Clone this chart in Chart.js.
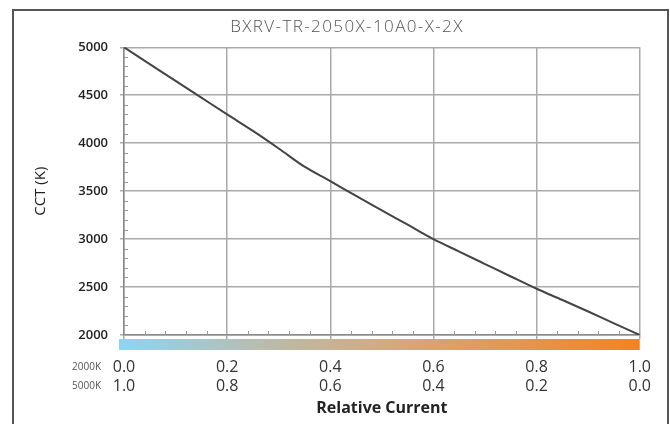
<!DOCTYPE html>
<html>
<head>
<meta charset="utf-8">
<script src="https://cdn.jsdelivr.net/npm/chart.js@4.4.1/dist/chart.umd.min.js"></script>
<style>
  html, body { margin: 0; padding: 0; background: #fff; }
  #wrap { position: relative; width: 670px; height: 424px; }
  #frame {
    position: absolute; left: 12px; top: 9px; width: 653px; height: 420px;
    border: 2px solid #555; border-bottom: none; pointer-events: none;
  }
</style>
</head>
<body>
<div id="wrap">
  <canvas id="cctChart" width="670" height="424"></canvas>
  <div id="frame"></div>
</div>
<script>
// du lieu doc tu hinh
const relCurrent = [0, 0.05, 0.1, 0.15, 0.2, 0.25, 0.3, 0.35, 0.4, 0.45, 0.5,
  0.55, 0.6, 0.65, 0.7, 0.75, 0.8, 0.85, 0.9, 0.95, 1.0];
const cctValues = [5000, 4825, 4650, 4475, 4300, 4128, 3945, 3755, 3605, 3450, 3300,
  3150, 3000, 2870, 2740, 2610, 2482, 2365, 2245, 2122, 2000];
const ticks2000K = ["0.0", "0.2", "0.4", "0.6", "0.8", "1.0"];
const ticks5000K = ["1.0", "0.8", "0.6", "0.4", "0.2", "0.0"];
const yTicks = [2000, 2500, 3000, 3500, 4000, 4500, 5000];
const chartTitle = "BXRV-TR-2050X-10A0-X-2X";

// ve tieu de, vach phu, thanh mau, nhan 2000K/5000K
const extrasPlugin = {
  id: "extras",
  afterDraw(chart) {
    const c = chart.ctx;
    const xs = chart.scales.x;
    const ys = chart.scales.y;
    c.save();
    // minor ticks
    c.strokeStyle = "#999";
    c.lineWidth = 1;
    c.beginPath();
    for (let i = 1; i < 25; i++) {
      if (i % 5 === 0) continue;
      const px = Math.round(xs.getPixelForValue(i * 0.04)) + 0.5;
      c.moveTo(px, ys.bottom);
      c.lineTo(px, ys.bottom - 4);
    }
    for (let v = 2100; v < 5000; v += 100) {
      if (v % 500 === 0) continue;
      const py = Math.round(ys.getPixelForValue(v)) + 0.5;
      c.moveTo(xs.left, py);
      c.lineTo(xs.left + 4, py);
    }
    c.stroke();

    // gradient bar
    const x0 = xs.getPixelForValue(0) - 5;
    const x1 = xs.getPixelForValue(1);
    const g = c.createLinearGradient(x0, 0, x1, 0);
    g.addColorStop(0, "#8dd5f4");
    g.addColorStop(0.3, "#bcbaa8");
    g.addColorStop(0.55, "#d6a77b");
    g.addColorStop(1, "#f5821f");
    c.fillStyle = g;
    c.fillRect(x0, ys.bottom + 4, x1 - x0, 11);

    // nhan nho ben trai
    c.fillStyle = "#555";
    c.font = "10px 'Open Sans'";
    c.textAlign = "right";
    c.textBaseline = "alphabetic";
    c.fillText("2000K", 101, 370);
    c.fillText("5000K", 101, 389);

    // tieu de
    c.fillStyle = "#555";
    c.font = "300 17px 'Open Sans'";
    c.letterSpacing = "1.4px";
    c.textAlign = "center";
    c.textBaseline = "middle";
    c.fillText(chartTitle, 347, 27);
    c.restore();
  },
};

const ctx = document.getElementById("cctChart");
new Chart(ctx, {
  type: "line",
  data: {
    datasets: [
      {
        label: "CCT",
        data: relCurrent.map((x, i) => ({ x: x, y: cctValues[i] })),
        borderColor: "#444",
        borderWidth: 2,
        pointRadius: 0,
        cubicInterpolationMode: "monotone",
        fill: false,
      },
    ],
  },
  options: {
    responsive: false,
    animation: false,
    layout: { padding: { left: 14, right: 29.5, top: 47.3, bottom: 0 } },
    plugins: {
      legend: { display: false },
      tooltip: { enabled: false },
    },
    scales: {
      x: {
        type: "linear",
        min: 0,
        max: 1,
        afterFit: (scale) => { scale.height = 89; },
        afterBuildTicks: (scale) => {
          scale.ticks = ticks2000K.map((t) => ({ value: parseFloat(t) }));
        },
        ticks: {
          padding: 19,
          color: "#333",
          font: { family: "'Open Sans'", size: 16, weight: "400" },
          maxRotation: 0,
          autoSkip: false,
          callback: (v, i) => [ticks2000K[i], ticks5000K[i]],
        },
        grid: { color: "#aaa", lineWidth: 1.5, tickLength: 4 },
        border: { color: "#888", width: 1.5 },
        title: {
          display: true,
          text: "Relative Current",
          color: "#222",
          font: { family: "'Open Sans'", size: 16, weight: "700" },
          padding: { top: 0, bottom: 6 },
        },
      },
      y: {
        min: 2000,
        max: 5000,
        afterFit: (scale) => { scale.width = 110; },
        afterBuildTicks: (scale) => {
          scale.ticks = yTicks.map((v) => ({ value: v }));
        },
        ticks: {
          padding: 12,
          color: "#222",
          font: { family: "'Open Sans'", size: 13, weight: "600" },
          callback: (v) => String(v),
        },
        grid: { color: "#aaa", lineWidth: 1.5, tickLength: 4 },
        border: { color: "#888", width: 1.5 },
        title: {
          display: true,
          text: "CCT (K)",
          color: "#222",
          font: { family: "'Open Sans'", size: 15 },
          padding: { top: 18, bottom: 0 },
        },
      },
    },
  },
  plugins: [extrasPlugin],
});
</script>
</body>
</html>
